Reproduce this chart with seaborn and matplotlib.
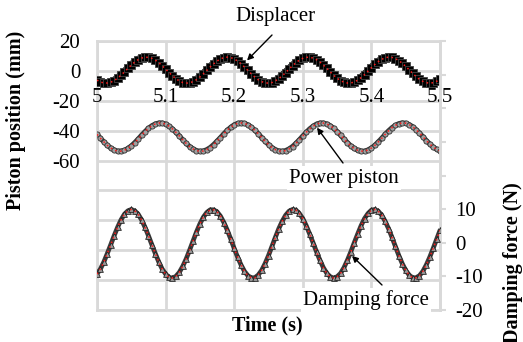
import matplotlib
matplotlib.use("Agg")
import matplotlib.pyplot as plt
import seaborn as sns

# Sampled time (s)
time_s = [
    5.000, 5.005, 5.010, 5.015, 5.020, 5.025, 5.030, 5.035, 5.040, 5.045,
    5.050, 5.055, 5.060, 5.065, 5.070, 5.075, 5.080, 5.085, 5.090, 5.095,
    5.100, 5.105, 5.110, 5.115, 5.120, 5.125, 5.130, 5.135, 5.140, 5.145,
    5.150, 5.155, 5.160, 5.165, 5.170, 5.175, 5.180, 5.185, 5.190, 5.195,
    5.200, 5.205, 5.210, 5.215, 5.220, 5.225, 5.230, 5.235, 5.240, 5.245,
    5.250, 5.255, 5.260, 5.265, 5.270, 5.275, 5.280, 5.285, 5.290, 5.295,
    5.300, 5.305, 5.310, 5.315, 5.320, 5.325, 5.330, 5.335, 5.340, 5.345,
    5.350, 5.355, 5.360, 5.365, 5.370, 5.375, 5.380, 5.385, 5.390, 5.395,
    5.400, 5.405, 5.410, 5.415, 5.420, 5.425, 5.430, 5.435, 5.440, 5.445,
    5.450, 5.455, 5.460, 5.465, 5.470, 5.475, 5.480, 5.485, 5.490, 5.495,
    5.500,
]

# Displacer position (mm), left axis
displacer_mm = [
    -6.2, -7.4, -8.1, -8.1, -7.6, -6.5, -4.9, -2.9, -0.7, 1.7,
    3.9, 5.9, 7.5, 8.6, 9.1, 9.1, 8.4, 7.2, 5.5, 3.5,
    1.2, -1.1, -3.3, -5.2, -6.7, -7.8, -8.2, -8.0, -7.2, -5.9,
    -4.1, -2.0, 0.3, 2.6, 4.7, 6.6, 8.0, 8.9, 9.2, 8.9,
    8.0, 6.6, 4.7, 2.6, 0.3, -2.0, -4.1, -5.9, -7.2, -8.0,
    -8.2, -7.8, -6.7, -5.2, -3.3, -1.1, 1.2, 3.5, 5.5, 7.2,
    8.4, 9.1, 9.1, 8.6, 7.5, 5.9, 3.9, 1.7, -0.7, -2.9,
    -4.9, -6.5, -7.6, -8.1, -8.1, -7.4, -6.2, -4.5, -2.5, -0.2,
    2.1, 4.3, 6.2, 7.7, 8.8, 9.2, 9.0, 8.2, 6.9, 5.1,
    3.0, 0.7, -1.6, -3.7, -5.6, -7.0, -7.9, -8.2, -7.9, -7.0,
    -5.6,
]

# Power piston position (mm), left axis
power_piston_mm = [
    -42.5, -45.1, -47.5, -49.8, -51.6, -52.9, -53.7, -53.7, -53.1, -51.9,
    -50.2, -48.0, -45.6, -43.0, -40.6, -38.4, -36.7, -35.5, -34.9, -34.9,
    -35.6, -37.0, -38.8, -41.1, -43.5, -46.1, -48.5, -50.6, -52.2, -53.3,
    -53.8, -53.6, -52.7, -51.3, -49.3, -47.0, -44.6, -42.0, -39.7, -37.7,
    -36.1, -35.1, -34.8, -35.1, -36.1, -37.7, -39.7, -42.0, -44.6, -47.0,
    -49.3, -51.3, -52.7, -53.6, -53.8, -53.3, -52.2, -50.6, -48.5, -46.1,
    -43.5, -41.1, -38.8, -37.0, -35.6, -34.9, -34.9, -35.5, -36.7, -38.4,
    -40.6, -43.0, -45.6, -48.0, -50.2, -51.9, -53.1, -53.7, -53.7, -52.9,
    -51.6, -49.8, -47.5, -45.1, -42.5, -40.1, -38.0, -36.4, -35.3, -34.8,
    -35.0, -35.9, -37.3, -39.3, -41.6, -44.0, -46.6, -48.9, -50.9, -52.5,
    -53.5,
]

# Damping force (N), right axis
damping_force_n = [
    -9.3, -7.8, -5.7, -3.2, -0.6, 2.1, 4.6, 6.8, 8.5, 9.5,
    9.9, 9.5, 8.5, 6.8, 4.6, 2.1, -0.6, -3.2, -5.7, -7.8,
    -9.3, -10.3, -10.5, -10.0, -8.8, -7.0, -4.8, -2.2, 0.5, 3.2,
    5.6, 7.6, 9.0, 9.8, 9.8, 9.2, 7.9, 6.0, 3.7, 1.1,
    -1.7, -4.3, -6.6, -8.5, -9.8, -10.4, -10.4, -9.6, -8.2, -6.2,
    -3.8, -1.1, 1.6, 4.2, 6.4, 8.2, 9.4, 9.9, 9.7, 8.7,
    7.2, 5.1, 2.6, 0.0, -2.7, -5.2, -7.4, -9.1, -10.1, -10.5,
    -10.1, -9.1, -7.4, -5.2, -2.7, 0.0, 2.6, 5.1, 7.2, 8.7,
    9.7, 9.9, 9.4, 8.2, 6.4, 4.2, 1.6, -1.1, -3.8, -6.2,
    -8.2, -9.6, -10.4, -10.4, -9.8, -8.5, -6.6, -4.3, -1.7, 1.0,
    3.7,
]

x_ticks = [5.0, 5.1, 5.2, 5.3, 5.4, 5.5]
x_labels = ['5', '5.1', '5.2', '5.3', '5.4', '5.5']
left_ticks = [-160, -140, -120, -100, -80, -60, -40, -20, 0, 20]
right_ticks = [-20, -10, 0, 10, 20, 30, 40, 50, 60]

plt.rcParams['font.family'] = ['Liberation Serif', 'DejaVu Serif']

W, H = 523, 342
fig = plt.figure(figsize=(W / 100, H / 100), dpi=100)
ax = fig.add_axes([97 / W, 1 - 310 / H, (440 - 97) / W, (310 - 41) / H])
ax2 = ax.twinx()

grid_col = '#d9d9d9'


def draw_trace(target, y, band_col, band_w, marker, size, face, edge):
    # dense measured samples: a dark band, the markers on it, then the
    # red dotted simulation line through the middle
    sns.lineplot(x=time_s, y=y, ax=target, color=band_col, linewidth=band_w,
                 zorder=2, solid_capstyle='round')
    sns.scatterplot(x=time_s, y=y, ax=target, marker=marker, s=size,
                    color=face, edgecolor=edge, linewidth=0.6, zorder=3)
    sns.lineplot(x=time_s, y=y, ax=target, color='#ff1a1a',
                 linestyle=(0, (1, 2.2)), linewidth=1.1, zorder=4)


draw_trace(ax, displacer_mm, 'black', 5.5, 's', 30, 'black', '#444444')
draw_trace(ax, power_piston_mm, '#3a3a3a', 3.6, 'o', 14, '#a0a0a0', '#333333')
draw_trace(ax2, damping_force_n, '#3a3a3a', 3.4, '^', 17, '#9a9a9a', '#222222')

# left axis
ax.set_xlim(5, 5.5)
ax.set_ylim(-160, 20)
ax.set_xticks(x_ticks)
ax.set_xticklabels([])
ax.tick_params(axis='x', length=0)
ax.set_yticks(left_ticks)
ax.set_yticklabels(['' if v < -60 else str(v) for v in left_ticks], fontsize=15)
ax.tick_params(axis='y', length=0, pad=12)
ax.grid(True, color=grid_col, linewidth=2)
ax.set_axisbelow(True)
ax.set_xlabel('')
ax.set_ylabel('')
for sp in ax.spines.values():
    sp.set_color(grid_col)
    sp.set_linewidth(2)

# right axis
ax2.set_ylim(-20, 60)
ax2.set_yticks(right_ticks)
ax2.set_yticklabels([str(v) if v <= 10 else '' for v in right_ticks], fontsize=15)
ax2.tick_params(axis='y', length=4, width=1.5, color=grid_col, pad=7)
ax2.set_ylabel('')
for name, sp in ax2.spines.items():
    sp.set_visible(name == 'right')
ax2.spines['right'].set_color(grid_col)
ax2.spines['right'].set_linewidth(2)

# time labels sit just under the zero line
for t, lab in zip(x_ticks, x_labels):
    ax.text(t, -18, lab, ha='center', va='center', fontsize=15)

# annotations
arrow = dict(arrowstyle='-|>', color='black', lw=1, mutation_scale=9,
             shrinkA=0, shrinkB=0)
ax.annotate('', xy=(5.2187, 7), xytext=(272, H - 35),
            textcoords='figure pixels', arrowprops=arrow, annotation_clip=False)
ax.annotate('', xy=(5.3207, -38), xytext=(343, H - 163),
            textcoords='figure pixels', arrowprops=arrow)
ax2.annotate('', xy=(5.3717, -3.9), xytext=(382, H - 285),
             textcoords='figure pixels', arrowprops=arrow)

box = dict(facecolor='white', edgecolor='none', pad=1.5)
fig.text(275 / W, 1 - 17 / H, 'Displacer', ha='center', va='center', fontsize=15)
fig.text(344 / W, 1 - 178 / H, 'Power piston', ha='center', va='center',
         fontsize=15, bbox=box)
fig.text(366 / W, 1 - 300 / H, 'Damping force', ha='center', va='center',
         fontsize=15, bbox=box)

# axis titles
fig.text(16 / W, 1 - 120 / H, 'Piston position (mm)', rotation=90,
         ha='center', va='center', fontsize=14.5, fontweight='bold')
fig.text(513 / W, 1 - 263 / H, 'Damping force (N)', rotation=90,
         ha='center', va='center', fontsize=14.5, fontweight='bold')
fig.text(267 / W, 1 - 325 / H, 'Time (s)', ha='center', va='center',
         fontsize=14.5, fontweight='bold')

fig.savefig('out.png', dpi=100)
plt.close(fig)
